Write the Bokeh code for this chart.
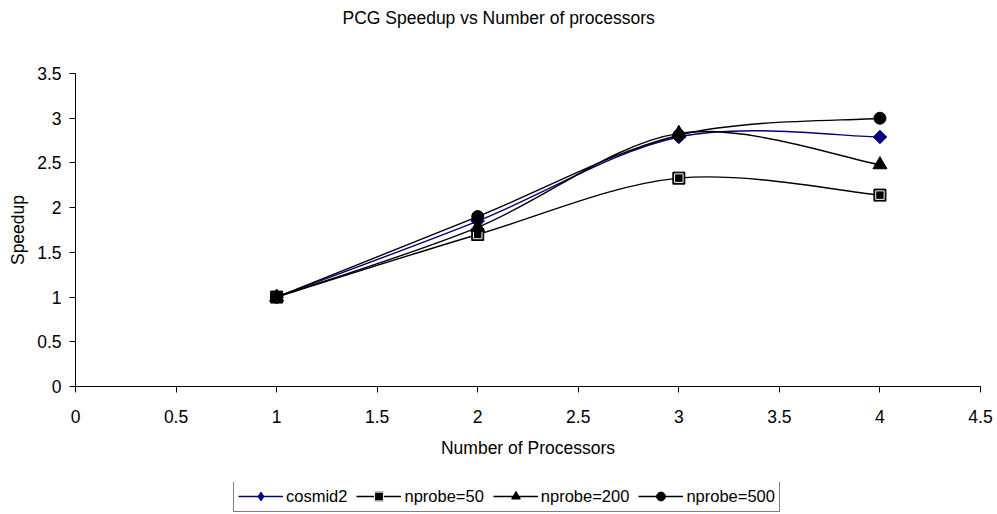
import math
from bokeh.plotting import figure
from bokeh.layouts import column
from bokeh.models import (Range1d, FixedTicker, CustomJSTickFormatter, Legend, LegendItem,
                          ColumnDataSource, Title)
from bokeh.embed import file_html
from bokeh.resources import INLINE

# ---- data ----
processors = [1, 2, 3, 4]
cosmid2 = [1.0, 1.85, 2.79, 2.79]
nprobe50 = [1.0, 1.70, 2.33, 2.14]
nprobe200 = [1.0, 1.78, 2.83, 2.48]
nprobe500 = [1.0, 1.90, 2.81, 3.00]
series_names = ["cosmid2", "nprobe=50", "nprobe=200", "nprobe=500"]
x_ticks = [0, 0.5, 1, 1.5, 2, 2.5, 3, 3.5, 4, 4.5]
y_ticks = [0, 0.5, 1, 1.5, 2, 2.5, 3, 3.5]

FONT = "Liberation Sans"
FS = "17.5px"

p = figure(width=997, height=482, output_backend="svg", toolbar_location=None,
           x_range=Range1d(0, 4.5), y_range=Range1d(0, 3.5),
           min_border_left=75, min_border_right=17, min_border_top=0, min_border_bottom=96)
p.title = None
spacer = Title(text=" ", text_font_size="1px", standoff=34)
p.add_layout(spacer, "above")
t = Title(text="PCG Speedup vs Number of processors", align="left", offset=267,
          vertical_align="top",
          text_font=FONT, text_font_size=FS, text_font_style="normal",
          text_color="black", standoff=14)
p.add_layout(t, "above")

p.grid.visible = False
p.outline_line_color = None
p.background_fill_color = "white"
p.border_fill_color = "white"

for ax in (p.xaxis[0], p.yaxis[0]):
    ax.major_label_text_font = FONT
    ax.major_label_text_font_size = FS
    ax.major_label_text_color = "black"
    ax.axis_label_text_font = FONT
    ax.axis_label_text_font_size = FS
    ax.axis_label_text_font_style = "normal"
    ax.axis_label_text_color = "black"
    ax.axis_line_color = "black"
    ax.major_tick_line_color = "black"
    ax.major_tick_out = 6
    ax.major_tick_in = 0
    ax.minor_tick_line_color = None
    ax.formatter = CustomJSTickFormatter(code="return tick.toString()")

p.xaxis[0].ticker = FixedTicker(ticks=x_ticks)
p.yaxis[0].ticker = FixedTicker(ticks=y_ticks)
p.xaxis[0].axis_label = "Number of Processors"
p.yaxis[0].axis_label = "Speedup"
p.xaxis[0].major_label_standoff = 17
p.xaxis[0].axis_label_standoff = 12
p.yaxis[0].major_label_standoff = 8
p.yaxis[0].axis_label_standoff = 6


def smooth_segments(xs, ys, tension=1.0 / 6.0):
    n = len(xs)
    d = dict(x0=[], y0=[], x1=[], y1=[], cx0=[], cy0=[], cx1=[], cy1=[])
    for i in range(n - 1):
        im1 = max(i - 1, 0)
        ip2 = min(i + 2, n - 1)
        d["x0"].append(xs[i]); d["y0"].append(ys[i])
        d["x1"].append(xs[i + 1]); d["y1"].append(ys[i + 1])
        d["cx0"].append(xs[i] + (xs[i + 1] - xs[im1]) * tension)
        d["cy0"].append(ys[i] + (ys[i + 1] - ys[im1]) * tension)
        d["cx1"].append(xs[i + 1] - (xs[ip2] - xs[i]) * tension)
        d["cy1"].append(ys[i + 1] - (ys[ip2] - ys[i]) * tension)
    return ColumnDataSource(d)


# (colour, plot marker, size, angle, legend marker)
styles = [
    ("#000080", "square", 9.5, math.pi / 4, "diamond"),
    ("black", "square", 12, 0.0, "square"),
    ("black", "triangle", 14, 0.0, "triangle"),
    ("black", "circle", 12, 0.0, "circle"),
]
all_series = [cosmid2, nprobe50, nprobe200, nprobe500]

# legend strip as a second, axis-less figure (its view range keeps the data off-screen)
lf = figure(width=997, height=32, output_backend="svg", toolbar_location=None,
            x_range=Range1d(-2, -1), y_range=Range1d(-2, -1),
            x_axis_type=None, y_axis_type=None,
            min_border_left=0, min_border_right=0, min_border_top=0, min_border_bottom=0)
lf.grid.visible = False
lf.outline_line_color = None
lf.background_fill_color = "white"
lf.border_fill_color = "white"

items = []
for name, ys, (col, marker, size, ang, lmarker) in zip(series_names, all_series, styles):
    src = smooth_segments(processors, ys)
    p.bezier(x0="x0", y0="y0", x1="x1", y1="y1", cx0="cx0", cy0="cy0", cx1="cx1", cy1="cy1",
             source=src, line_color=col, line_width=1.4)
    p.scatter(x=processors, y=ys, marker=marker, size=size, angle=ang,
              fill_color=col, line_color=col, line_width=1)
    leg_line = lf.line(x=processors, y=ys, line_color=col, line_width=1.4)
    leg_mark = lf.scatter(x=processors, y=ys, marker=lmarker, size=size,
                          fill_color=col, line_color=col, line_width=1)
    rends = [leg_line, leg_mark]
    if name == "nprobe=50":
        p.scatter(x=processors, y=ys, marker="square", size=size - 3.5,
                  fill_color=None, line_color="white", line_width=1)
        rends.append(lf.scatter(x=processors, y=ys, marker="square", size=size - 3.5,
                                fill_color=None, line_color="white", line_width=1))
    items.append(LegendItem(label=name, renderers=rends))

legend = Legend(items=items, orientation="horizontal", location=(158, 2),
                border_line_color="black", border_line_width=1,
                background_fill_color="white", background_fill_alpha=1.0,
                label_text_font=FONT, label_text_font_size="16.5px", label_text_color="black",
                glyph_width=45, glyph_height=22, label_standoff=3, spacing=9,
                padding=4, margin=0, label_height=22)
lf.add_layout(legend, "center")

layout = column(p, lf, spacing=0)
open("out.html", "w").write(file_html(layout, INLINE))
